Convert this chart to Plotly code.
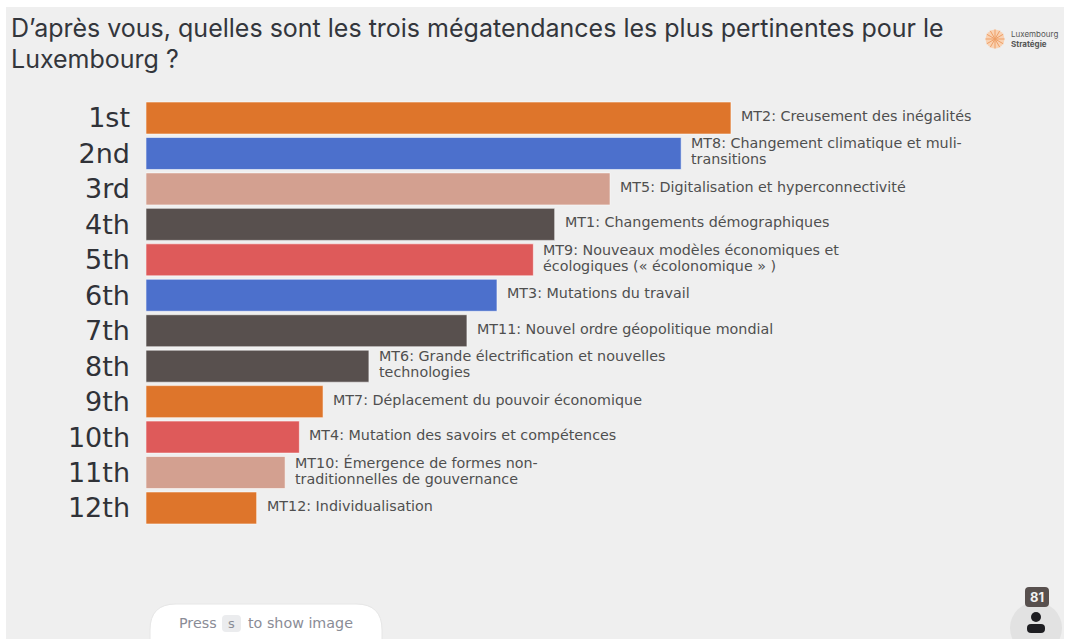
import math
import plotly.graph_objects as go

ranks = ["1st","2nd","3rd","4th","5th","6th","7th","8th","9th","10th","11th","12th"]
votes = [37.0,33.85,29.35,25.85,24.5,22.2,20.3,14.1,11.2,9.7,8.8,7.0]
labels = [
 "MT2: Creusement des inégalités",
 "MT8: Changement climatique et muli-<br>transitions",
 "MT5: Digitalisation et hyperconnectivité",
 "MT1: Changements démographiques",
 "MT9: Nouveaux modèles économiques et<br>écologiques (« écolonomique » )",
 "MT3: Mutations du travail",
 "MT11: Nouvel ordre géopolitique mondial",
 "MT6: Grande électrification et nouvelles<br>technologies",
 "MT7: Déplacement du pouvoir économique",
 "MT4: Mutation des savoirs et compétences",
 "MT10: Émergence de formes non-<br>traditionnelles de gouvernance",
 "MT12: Individualisation",
]
ORANGE, BLUE, PINK, DARK, RED = "#DE752B", "#4C70CC", "#D3A090", "#58504E", "#DE5A5A"
colors = [ORANGE,BLUE,PINK,DARK,RED,BLUE,DARK,DARK,ORANGE,RED,PINK,ORANGE]
title_lines = ["D’après vous, quelles sont les trois mégatendances les plus pertinentes pour le", "Luxembourg ?"]

W, H = 1065, 639
FONT = "Inter"
WIDE = "DejaVu Sans"
def X(p): return p / W
def Y(p): return 1 - p / H

fig = go.Figure(go.Bar(
    x=votes, y=ranks, orientation="h",
    marker=dict(color=colors, line=dict(color="rgba(255,255,255,0.55)", width=1)),
    hoverinfo="skip",
))

shapes = []
def rect(x0, y0, x1, y1, color, layer="below"):
    shapes.append(dict(type="rect", xref="paper", yref="paper", x0=X(x0), x1=X(x1), y0=Y(y0), y1=Y(y1),
                       fillcolor=color, line=dict(width=0), layer=layer))
def circle(cx, cy, r, color, layer="above"):
    shapes.append(dict(type="circle", xref="paper", yref="paper", x0=X(cx-r), x1=X(cx+r), y0=Y(cy-r), y1=Y(cy+r),
                       fillcolor=color, line=dict(width=0), layer=layer))
def rrect(x0, y0, x1, y1, r, color, layer="above", line=None):
    P = lambda a, b: f"{X(a):.5f},{Y(b):.5f}"
    path = (f"M{P(x0+r,y0)} L{P(x1-r,y0)} Q{P(x1,y0)} {P(x1,y0+r)} L{P(x1,y1-r)} Q{P(x1,y1)} {P(x1-r,y1)} "
            f"L{P(x0+r,y1)} Q{P(x0,y1)} {P(x0,y1-r)} L{P(x0,y0+r)} Q{P(x0,y0)} {P(x0+r,y0)} Z")
    shapes.append(dict(type="path", xref="paper", yref="paper", path=path, fillcolor=color,
                       line=line or dict(width=0), layer=layer))

rect(6, 7, 1064, 639, "#EFEFEF")
# logo
circle(995, 39, 9.5, "#F9D2B3")
for k in range(12):
    a = k * math.pi / 6
    shapes.append(dict(type="line", xref="paper", yref="paper", layer="above",
                       x0=X(995), y0=Y(39), x1=X(995 + 9.5*math.cos(a)), y1=Y(39 + 9.5*math.sin(a)),
                       line=dict(color="#EE9F66", width=1)))
# press pill
rrect(150, 604, 382, 668, 26, "#FFFFFF", line=dict(color="#E6E6E6", width=1))
rrect(222, 615, 241, 632, 4, "#EBECEE")
# participants
circle(1036, 628, 26, "#E2E2E2")
rrect(1025, 587, 1049, 607, 4, "#58504E")
circle(1036, 617, 5, "#1E1E22")
rrect(1027, 624, 1045, 633, 4, "#1E1E22")

anns = []
for v, r, t in zip(votes, ranks, labels):
    parts = t.split("<br>")
    for i, part in enumerate(parts):
        dy = (i - (len(parts) - 1) / 2) * 16
        anns.append(dict(x=v, y=r, xref="x", yref="y", text=part, xanchor="left", yanchor="middle",
                         xshift=8, yshift=2 - dy, showarrow=False, align="left",
                         font=dict(family=WIDE, size=14.3, color="#4F4F4F")))
def txt(x, y, t, size, color, xa="left", family=FONT):
    anns.append(dict(x=X(x), y=Y(y), xref="paper", yref="paper", text=t, showarrow=False, xanchor=xa,
                     yanchor="middle", align="left", font=dict(family=family, size=size, color=color)))
txt(9, 28, title_lines[0], 25, "#33363C")
txt(9, 59, title_lines[1], 25, "#33363C")
txt(1009, 39, "Luxembourg<br><b>Stratégie</b>", 8, "#555555")
txt(177, 623, "Press", 14.3, "#8A8C96", family=WIDE)
txt(231, 623, "s", 13, "#8A8C96", xa="center", family=WIDE)
txt(246, 623, "to show image", 14.3, "#8A8C96", family=WIDE)
txt(1037, 597, "<b>81</b>", 13, "#F2F2F2", xa="center")

fig.update_layout(
    width=W, height=H, margin=dict(l=0, r=0, t=0, b=0),
    paper_bgcolor="#FFFFFF", plot_bgcolor="rgba(0,0,0,0)",
    bargap=0.097, showlegend=False, shapes=shapes, annotations=anns,
    xaxis=dict(domain=[146/W, 1046/W], range=[0, 900/15.81], visible=False),
    yaxis=dict(domain=[1-525.7/H, 1-100.3/H], categoryorder="array", categoryarray=ranks, autorange="reversed",
               showgrid=False, zeroline=False, showline=False, ticks="", ticklabelstandoff=15,
               tickfont=dict(family=WIDE, size=27, color="#303238")),
)
fig.write_html("out.html", config=dict(displayModeBar=False),
               post_script="document.body.style.margin='0';")
